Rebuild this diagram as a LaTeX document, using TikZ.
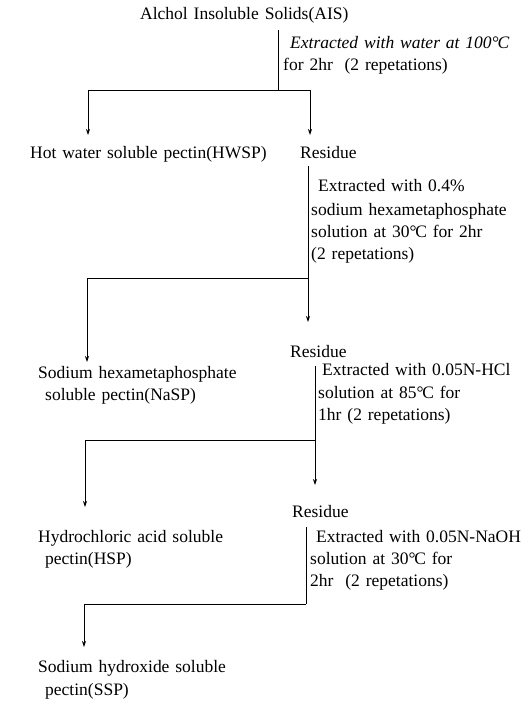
\documentclass[tikz,border=0pt]{standalone}
\usepackage{fontspec}
\setmainfont[WordSpace=1.35]{Liberation Serif}
\usetikzlibrary{arrows.meta}
\newcommand{\degC}{°\kern-1.2pt C}
\begin{document}
\begin{tikzpicture}[x=1pt,y=-1pt,
  every node/.style={inner sep=0pt, anchor=base west, font=\fontsize{17.5}{21}\selectfont},
  ln/.style={line width=0.8pt},
  arr/.style={ln, -{Stealth[length=6pt,width=4pt]}}]
\useasboundingbox[fill=white] (0,0) rectangle (529,710);
% texts
\node (ais) at (140,19) {Alchol Insoluble Solids(AIS)};
\node (c1a) at (290,48) {\itshape Extracted with water at 100\degC};
\node (c1b) at (283,70) {for 2hr\ \ (2 repetations)};
\node (hwsp) at (30,158) {Hot water soluble pectin(HWSP)};
\node (res1) at (300,158) {Residue};
\node (c2a) at (318,191) {Extracted with 0.4\%};
\node (c2b) at (311,215) {sodium hexametaphosphate};
\node (c2c) at (311,237) {solution at 30\degC\ for 2hr};
\node (c2d) at (311,259) {(2 repetations)};
\node (res2) at (290,357) {Residue};
\node (nasp1) at (38,378) {Sodium hexametaphosphate};
\node (nasp2) at (45,400) {soluble pectin(NaSP)};
\node (c3a) at (322,375) {Extracted with 0.05N-HCl};
\node (c3b) at (318,398) {solution at 85\degC\ for};
\node (c3c) at (318,420) {1hr (2 repetations)};
\node (res3) at (292,517) {Residue};
\node (hsp1) at (38,542) {Hydrochloric acid soluble};
\node (hsp2) at (45,564) {pectin(HSP)};
\node (c4a) at (316,542) {Extracted with 0.05N-NaOH};
\node (c4b) at (310,564) {solution at 30\degC\ for};
\node (c4c) at (310,586) {2hr\ \ (2 repetations)};
\node (ssp1) at (38,672) {Sodium hydroxide soluble};
\node (ssp2) at (45,695) {pectin(SSP)};
% coordinates
\coordinate (t1) at (278,30);  \coordinate (j1) at (278,90);
\coordinate (a1l) at (88,135); \coordinate (a1r) at (310,135);
\coordinate (t2) at (308,166); \coordinate (j2) at (308,278);
\coordinate (a2r) at (308,322); \coordinate (a2l) at (87,362);
\coordinate (t3) at (315,366); \coordinate (j3) at (315,440);
\coordinate (a3r) at (315,485); \coordinate (a3l) at (85,507);
\coordinate (t4) at (306,527); \coordinate (j4) at (306,604);
\coordinate (a4l) at (84,647);
% connectors
\draw[ln] (t1) -- (j1);
\draw[arr] (j1) -| (a1l);
\draw[arr] (j1) -| (a1r);
\draw[arr] (t2) -- (a2r);
\draw[arr] (j2) -| (a2l);
\draw[arr] (t3) -- (a3r);
\draw[arr] (j3) -| (a3l);
\draw[ln] (t4) -- (j4);
\draw[arr] (j4) -| (a4l);
\end{tikzpicture}
\end{document}
